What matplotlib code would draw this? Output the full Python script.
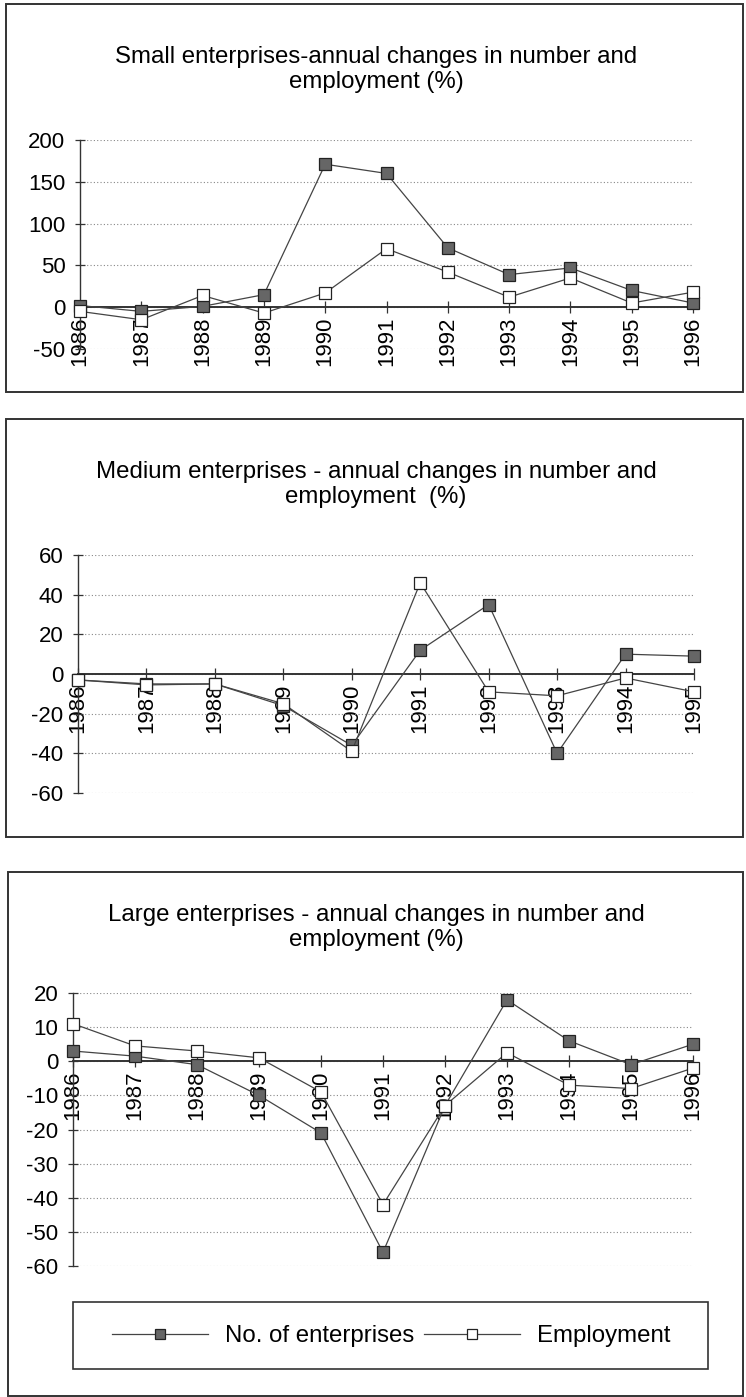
import numpy as np
import matplotlib
matplotlib.use("Agg")
import matplotlib.pyplot as plt
from matplotlib.lines import Line2D
from matplotlib.patches import Rectangle

plt.rcParams['font.family'] = ['Liberation Sans', 'DejaVu Sans']
plt.rcParams['axes.unicode_minus'] = False

# data
years_small = ["1986", "1987", "1988", "1989", "1990", "1991", "1992", "1993", "1994", "1995", "1996"]
small_firms = [2, -5, 1, 15, 171, 160, 71, 39, 47, 20, 5]
small_empl = [-5, -15, 14, -7, 17, 70, 42, 12, 35, 5, 18]

years_medium = ["1986", "1987", "1988", "1989", "1990", "1991", "1992", "1993", "1994", "1995"]
medium_firms = [-3, -5, -5, -16, -36, 12, 35, -40, 10, 9]
medium_empl = [-3, -5.5, -5, -15, -39, 46, -9, -11, -2, -9]

years_large = ["1986", "1987", "1988", "1989", "1990", "1991", "1992", "1993", "1994", "1995", "1996"]
large_firms = [3, 1.5, -1, -10, -21, -56, -13, 18, 6, -1, 5]
large_empl = [11, 4.5, 3, 1, -9, -42, -13, 2.5, -7, -8, -2]

W, H = 746, 1397
fig = plt.figure(figsize=(W / 100, H / 100), dpi=100)

def px_axes(left, top, right, bottom):
    return fig.add_axes([left / W, 1 - bottom / H, (right - left) / W, (bottom - top) / H])

def panel_box(left, top, right, bottom, lw=1.4):
    fig.patches.append(Rectangle((left / W, 1 - bottom / H), (right - left) / W, (bottom - top) / H,
                                 transform=fig.transFigure, fill=False, ec="#333333", lw=lw))

def title(lines, top):
    fig.text(376 / W, 1 - top / H, lines[0], ha="center", va="center", fontsize=17.3)
    fig.text(376 / W, 1 - (top + 25) / H, lines[1], ha="center", va="center", fontsize=17.3)

line_kw = dict(color="#444444", lw=0.9, marker="s", ms=8, mec="#222222", mew=0.9, clip_on=False)

def draw(ax, years, firms, empl, ylim, step):
    x = np.arange(len(years))
    ax.plot(x, firms, mfc="#666666", zorder=3, **line_kw)
    ax.plot(x, empl, mfc="white", zorder=4, **line_kw)
    ax.set_xlim(0, len(years) - 1)
    ax.set_ylim(*ylim)
    for s in ["top", "right"]:
        ax.spines[s].set_visible(False)
    ax.spines["left"].set_color("#333333")
    ax.spines["left"].set_linewidth(1.0)
    ax.spines["bottom"].set_position(("data", 0))
    ax.spines["bottom"].set_color("#333333")
    ax.spines["bottom"].set_linewidth(1.4)
    ax.set_yticks(np.arange(ylim[0], ylim[1] + 1, step))
    ax.set_xticks(x)
    ax.set_xticklabels(years)
    ax.grid(axis="y", ls=(0, (1, 2)), color="#888888", lw=0.8)
    ax.set_axisbelow(True)
    ax.tick_params(axis="y", direction="inout", length=7, width=0.9, color="#333333",
                   labelsize=16, pad=7)
    ax.tick_params(axis="x", direction="inout", length=8, width=0.9, color="#333333",
                   labelsize=16, pad=3, labelrotation=90)
    ax.patch.set_alpha(0)

# small enterprises
panel_box(6, 4, 743, 392)
ax1 = px_axes(80, 140, 693, 349)
draw(ax1, years_small, small_firms, small_empl, (-50, 200), 50)
title(["Small enterprises-annual changes in number and", "employment (%)"], 57)

# medium enterprises
panel_box(6, 419, 743, 837)
ax2 = px_axes(78, 555, 694, 793)
draw(ax2, years_medium, medium_firms, medium_empl, (-60, 60), 20)
title(["Medium enterprises - annual changes in number and", "employment  (%)"], 472)

# large enterprises
panel_box(8, 872, 743, 1396)
ax3 = px_axes(73, 993, 693, 1266)
draw(ax3, years_large, large_firms, large_empl, (-60, 20), 10)
title(["Large enterprises - annual changes in number and", "employment (%)"], 915)

# legend (frame drawn as its own box, wider than the legend contents)
panel_box(73, 1302, 708, 1369, lw=1.2)
handles = [
    Line2D([], [], color="#444444", lw=0.9, marker="s", ms=6.5, mfc="#666666", mec="#222222", mew=0.9),
    Line2D([], [], color="#444444", lw=0.9, marker="s", ms=6.5, mfc="white", mec="#222222", mew=0.9),
]
fig.legend(handles, ["No. of enterprises", "Employment"], ncol=2,
           loc="center", bbox_to_anchor=(391 / W, 1 - 1336 / H),
           frameon=False, fontsize=17.3,
           handlelength=4.0, handletextpad=0.7, columnspacing=0.4)

fig.savefig("out.png", dpi=100)
